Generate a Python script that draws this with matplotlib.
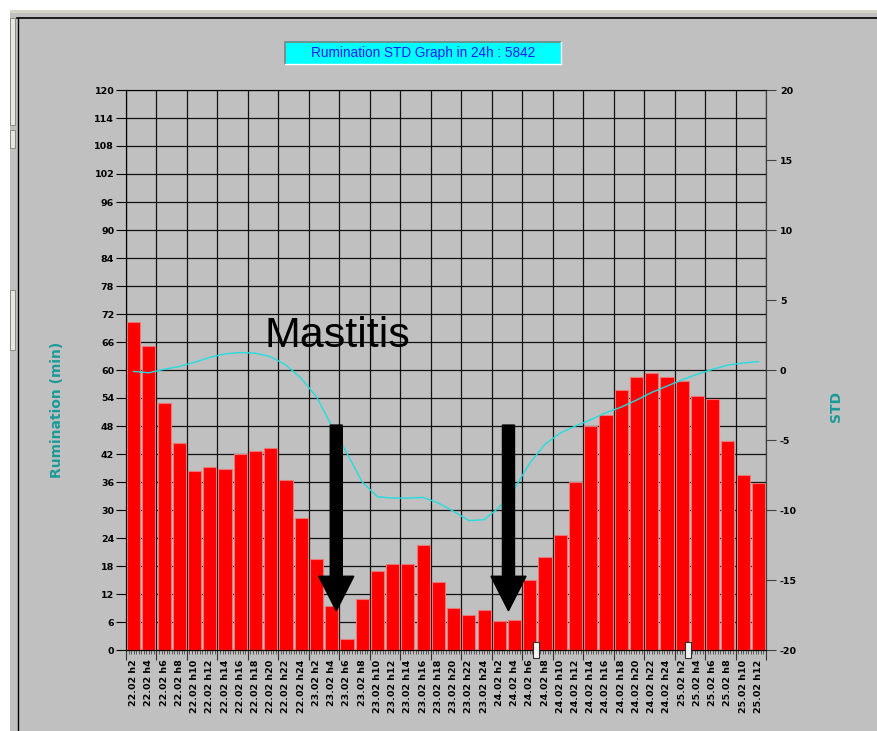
#!/usr/bin/env python3

import matplotlib
matplotlib.use("Agg")
import matplotlib.pyplot as plt
from matplotlib.patches import Rectangle, FancyArrow
from matplotlib.lines import Line2D
from matplotlib.transforms import blended_transform_factory
from matplotlib.ticker import MultipleLocator, FuncFormatter

labels = [
    "22.02 h2", "22.02 h4", "22.02 h6", "22.02 h8", "22.02 h10", "22.02 h12",
    "22.02 h14", "22.02 h16", "22.02 h18", "22.02 h20", "22.02 h22", "22.02 h24",
    "23.02 h2", "23.02 h4", "23.02 h6", "23.02 h8", "23.02 h10", "23.02 h12",
    "23.02 h14", "23.02 h16", "23.02 h18", "23.02 h20", "23.02 h22", "23.02 h24",
    "24.02 h2", "24.02 h4", "24.02 h6", "24.02 h8", "24.02 h10", "24.02 h12",
    "24.02 h14", "24.02 h16", "24.02 h18", "24.02 h20", "24.02 h22", "24.02 h24",
    "25.02 h2", "25.02 h4", "25.02 h6", "25.02 h8", "25.02 h10", "25.02 h12",
]
rumination = [
    70.3, 65.1, 52.9, 44.3, 38.4, 39.2, 38.7, 41.9, 42.7, 43.3, 36.5, 28.2,
    19.4, 9.5, 2.4, 11.0, 16.9, 18.5, 18.5, 22.6, 14.6, 8.9, 7.6, 8.6,
    6.2, 6.5, 15.1, 19.9, 24.7, 35.9, 48.0, 50.4, 55.8, 58.5, 59.3, 58.5,
    57.7, 54.4, 53.7, 44.8, 37.6, 35.8,
]
std = [
    -0.1, -0.2, 0.05, 0.25, 0.55, 0.9, 1.15, 1.25, 1.2, 0.95, 0.35, -0.6,
    -1.9, -4.0, -5.95, -8.0, -9.05, -9.15, -9.15, -9.1, -9.5, -10.1, -10.75, -10.7,
    -9.8, -8.45, -6.65, -5.3, -4.5, -4.0, -3.55, -3.05, -2.65, -2.15, -1.6, -1.15,
    -0.7, -0.3, 0.05, 0.35, 0.5, 0.6,
]
arrow_x = [13.3, 24.6]
arrow_top = 48.2
arrow_tip = 8.4
title = "Rumination STD Graph in 24h : 5842"

W, H = 877, 731
GRAY = "#c0c0c0"
TEAL = "#1a9a9a"


def fx(px):
    return px / W


def fy(py):
    return 1 - py / H


def window_chrome(fig):
    # white strips and frame lines of the program window
    fig.patches.append(Rectangle((0, fy(10)), 1, 10 / H, transform=fig.transFigure,
                                 facecolor="white", edgecolor="none"))
    fig.patches.append(Rectangle((0, 0), fx(10), 1, transform=fig.transFigure,
                                 facecolor="white", edgecolor="none"))
    fig.patches.append(Rectangle((fx(10), fy(13)), 1, 3 / H, transform=fig.transFigure,
                                 facecolor="#d8d4c8", edgecolor="none"))
    fig.lines.append(Line2D([fx(17), 1], [fy(17.5), fy(17.5)], transform=fig.transFigure,
                            color="black", lw=1.2))
    fig.lines.append(Line2D([fx(17.5), fx(17.5)], [0, fy(17.5)], transform=fig.transFigure,
                            color="black", lw=1.0))
    for y0, y1 in [(18, 125), (130, 148), (290, 350)]:
        fig.patches.append(Rectangle((fx(10), fy(y1)), fx(5), (y1 - y0) / H,
                                     transform=fig.transFigure, facecolor="#e8e6e0",
                                     edgecolor="#8a8a80", lw=0.7))
    # title box
    x0, x1, y0, y1 = 285, 561, 41.5, 63.5
    fig.patches.append(Rectangle((fx(x0), fy(y1)), fx(x1 - x0), (y1 - y0) / H,
                                 transform=fig.transFigure, facecolor="#00ffff",
                                 edgecolor="none"))
    fig.lines.append(Line2D([fx(x0), fx(x0), fx(x1)], [fy(y1), fy(y0), fy(y0)],
                            transform=fig.transFigure, color="#808080", lw=1.2))
    fig.lines.append(Line2D([fx(x0), fx(x1), fx(x1)], [fy(y1), fy(y1), fy(y0)],
                            transform=fig.transFigure, color="white", lw=1.0))
    fig.text(fx(423), fy(52.5), title, ha="center", va="center", color="#1a1aff",
             fontsize=9.8, family=["Liberation Sans", "DejaVu Sans"])
    # slider handles on the time axis
    for xp in [536.3, 688.3]:
        fig.patches.append(Rectangle((fx(xp - 3), fy(658)), fx(6), 16 / H,
                                     transform=fig.transFigure, facecolor="#f4f4f4",
                                     edgecolor="#303030", lw=0.8, zorder=10))


def main():
    fig = plt.figure(figsize=(W / 100, H / 100), dpi=100, facecolor=GRAY)
    window_chrome(fig)

    ax = fig.add_axes([fx(126), fy(650), fx(766 - 126), (650 - 90) / H])
    ax.set_facecolor(GRAY)
    x = list(range(len(rumination)))

    ax.bar(x, rumination, width=0.86, color="#ff0000", edgecolor="#e87878", lw=0.8, zorder=3)
    ax.set_xlim(-0.5, len(x) - 0.5)
    ax.set_ylim(0, 120)
    ax.set_yticks(range(0, 121, 6))
    ax.set_xticks([i - 0.5 for i in range(0, len(x) + 1, 2)])
    ax.set_xticklabels([])
    ax.xaxis.set_minor_locator(MultipleLocator(1 / 6))
    ax.grid(True, which="major", color="#111111", lw=0.9)
    ax.set_axisbelow(True)
    ax.tick_params(axis="y", direction="out", length=7.5, width=0.8, pad=1, labelsize=6.8)
    ax.tick_params(axis="x", which="major", direction="out", length=7.5, width=0.8, color="#333333")
    ax.tick_params(axis="x", which="minor", direction="out", length=3, width=0.5, color="#333333")
    plt.setp(ax.get_yticklabels(), fontweight="bold")
    for side in ["left", "bottom"]:
        ax.spines[side].set_color("black")
    ax.spines["top"].set_color("#707070")
    ax.spines["right"].set_color("#404040")

    trans = blended_transform_factory(ax.transData, ax.transAxes)
    for i, lab in enumerate(labels):
        ax.text(i, -0.017, lab, transform=trans, rotation=90, ha="center", va="top",
                fontsize=6.8, fontweight="bold")

    ax.text(8.62, 64.9, "Mastitis", ha="left", va="baseline", fontsize=31,
            family=["Liberation Sans", "DejaVu Sans"], zorder=6)

    ax2 = ax.twinx()
    ax2.plot(x, std, color="#20dede", lw=1.0)
    ax2.set_ylim(-20, 20)
    ax2.set_yticks(range(-20, 21, 5))
    ax2.yaxis.set_major_formatter(FuncFormatter(lambda v, _: f"{int(v)}"))
    ax2.tick_params(axis="y", direction="out", length=7.5, width=0.8, pad=2.5,
                    labelsize=6.8, color="#404040")
    plt.setp(ax2.get_yticklabels(), fontweight="bold")
    ax2.spines["right"].set_color("#404040")

    for xa in arrow_x:
        ax2.add_patch(FancyArrow(xa, arrow_top, 0, arrow_tip - arrow_top, width=0.79,
                                 head_width=2.3, head_length=7.4, length_includes_head=True,
                                 color="black", transform=ax.transData, zorder=5))
    ax2.set_ylim(-20, 20)
    ax2.set_xlim(-0.5, len(x) - 0.5)

    fig.text(fx(57), fy(410), "Rumination (min)", rotation=90, ha="center", va="center",
             color=TEAL, fontsize=10, fontweight="bold")
    fig.text(fx(836), fy(406), "STD", rotation=90, ha="center", va="center",
             color=TEAL, fontsize=10, fontweight="bold")

    fig.savefig("out.png", dpi=100, facecolor=GRAY)


if __name__ == "__main__":
    main()
